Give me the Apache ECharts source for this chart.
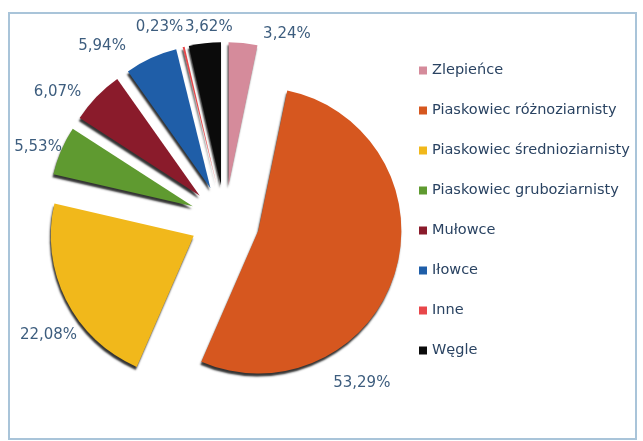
<!DOCTYPE html>
<html>
<head>
<meta charset="utf-8">
<script src="https://cdn.jsdelivr.net/npm/echarts@6/dist/echarts.min.js"></script>
<style>
  html, body { margin: 0; padding: 0; background: #ffffff; }
  #chart { width: 643px; height: 441px; }
</style>
</head>
<body>
<div id="chart"></div>
<script>
// Rock types and their share (%)
const categories = [
  'Zlepieńce',
  'Piaskowiec różnoziarnisty',
  'Piaskowiec średnioziarnisty',
  'Piaskowiec gruboziarnisty',
  'Mułowce',
  'Iłowce',
  'Inne',
  'Węgle'
];
const shares = [3.24, 53.29, 22.08, 5.53, 6.07, 5.94, 0.23, 3.62];
const colors = ['#d58b9b', '#d6571f', '#f1b81b', '#5f9a30', '#8a1b2b', '#1f5ea8', '#e8474a', '#0b0b0b'];

// Small nudges of the value labels away from their default outside spot [dx, dy]
const labelNudge = [[10, 1], [-80, 106], [29, 30], [19, 0], [1, 2], [-12, -3], [11, -10], [38, -6]];

const chart = echarts.init(document.getElementById('chart'), null, { renderer: 'canvas' });

const data = categories.map((name, i) => ({
  name: name,
  value: shares[i],
  selected: true,
  itemStyle: { color: colors[i] }
}));

chart.setOption({
  animation: false,
  backgroundColor: '#ffffff',
  graphic: [{
    type: 'rect',
    shape: { x: 9, y: 13, width: 627, height: 426 },
    style: { fill: 'none', stroke: '#a9c4d9', lineWidth: 2 },
    z: -1
  }],
  legend: {
    orient: 'vertical',
    left: 414,
    top: 58,
    itemWidth: 8,
    itemHeight: 8,
    itemGap: 25,
    icon: 'rect',
    selectedMode: false,
    textStyle: { fontFamily: 'DejaVu Sans', fontSize: 14.5, color: '#2a4362', padding: [0, 0, 0, 0] },
    data: categories
  },
  series: [{
    type: 'pie',
    center: [225, 220],
    radius: [0, 143],
    startAngle: 90,
    clockwise: true,
    selectedMode: 'multiple',
    selectedOffset: 35,
    avoidLabelOverlap: false,
    itemStyle: {
      shadowColor: 'rgba(0,0,0,0.8)',
      shadowBlur: 2,
      shadowOffsetX: -1,
      shadowOffsetY: 3
    },
    label: {
      show: true,
      position: 'outside',
      fontFamily: 'DejaVu Sans',
      fontSize: 15,
      color: '#3d5d7e',
      formatter: p => p.value.toFixed(2).replace('.', ',') + '%'
    },
    labelLine: { show: false, length: 10, length2: 4 },
    labelLayout: p => ({ dx: labelNudge[p.dataIndex][0], dy: labelNudge[p.dataIndex][1] }),
    emphasis: { disabled: true },
    data: data
  }]
});
</script>
</body>
</html>
